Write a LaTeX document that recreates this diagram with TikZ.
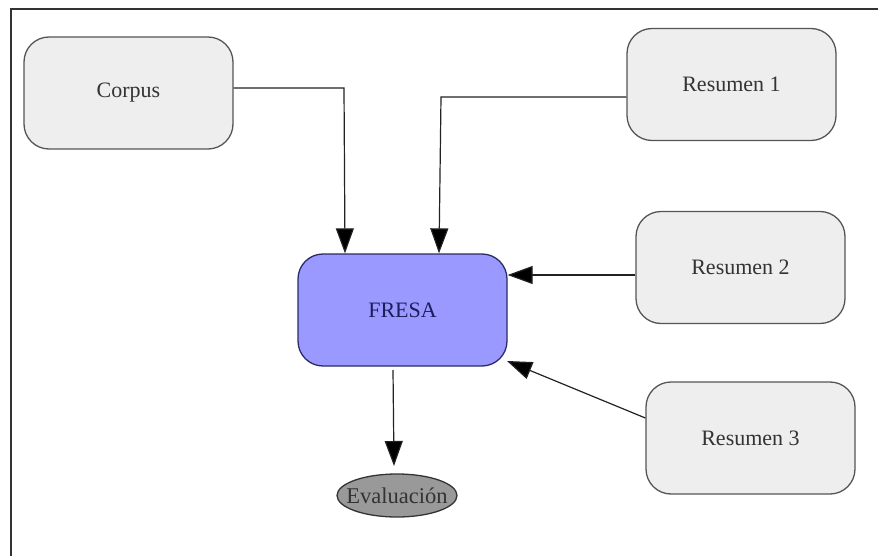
\documentclass[tikz,border=0pt]{standalone}
\usepackage{fontspec}
\setmainfont{Liberation Serif}
\usetikzlibrary{arrows.meta,shapes.geometric}
\definecolor{boxfill}{HTML}{EEEEEE}
\definecolor{boxline}{HTML}{555555}
\definecolor{txtgray}{HTML}{333333}
\definecolor{fresafill}{HTML}{9999FF}
\definecolor{fresaline}{HTML}{2B2B66}
\definecolor{fresatext}{HTML}{1E1E5A}
\definecolor{evalfill}{HTML}{999999}
\definecolor{conn}{HTML}{222222}
\begin{document}
\begin{tikzpicture}[x=1pt,y=-1pt,
  boxnode/.style={draw=boxline, fill=boxfill, rounded corners=25pt, line width=1.3pt,
    minimum width=209pt, minimum height=112pt, inner sep=0pt, text=txtgray,
    font=\fontsize{22}{26}\selectfont},
  fresanode/.style={boxnode, fill=fresafill, draw=fresaline, text=fresatext},
  evalnode/.style={ellipse, draw=txtgray, fill=evalfill, line width=1.3pt,
    minimum width=120pt, minimum height=43pt, inner xsep=-9pt, inner ysep=0pt, text=txtgray,
    font=\fontsize{22.5}{26}\selectfont},
  arr/.style={draw=conn, line width=1.2pt, -{Triangle[length=25pt,width=18pt,fill=black]}}]
\useasboundingbox (0,0) rectangle (878,556);
\draw[line width=1.5pt, black!80] (11,556) -- (11,9) -- (878,9);

\node[boxnode] (corpus) at (128.5,93) {Corpus};
\node[boxnode] (r1) at (731.5,84.5) {Resumen 1};
\node[boxnode] (r2) at (740.5,267.5) {Resumen 2};
\node[boxnode] (r3) at (750.5,438) {Resumen 3};
\node[fresanode] (fresa) at (402.5,310) {FRESA};
\node[evalnode] (eval) at (397,495.5) {Evaluación};

\coordinate (c1) at (344,88);
\coordinate (c2) at (345,0);
\draw[arr] (corpus.east |- c1) -- (c1) -- (c2 |- fresa.north);

\coordinate (d1) at (441,97);
\coordinate (d2) at (439,0);
\draw[arr] (r1.west |- d1) -- (d1) -- (d2 |- fresa.north);

\coordinate (e1) at (0,275);
\draw[arr] (r2.west |- e1) -- (fresa.east |- e1);

\coordinate (f1) at (0,418);
\coordinate (f2) at (507,361);
\draw[arr] (r3.west |- f1) -- (f2);

\coordinate (g1) at (393,370);
\coordinate (g2) at (394,466);
\draw[arr] (g1) -- (g2);
\end{tikzpicture}
\end{document}
